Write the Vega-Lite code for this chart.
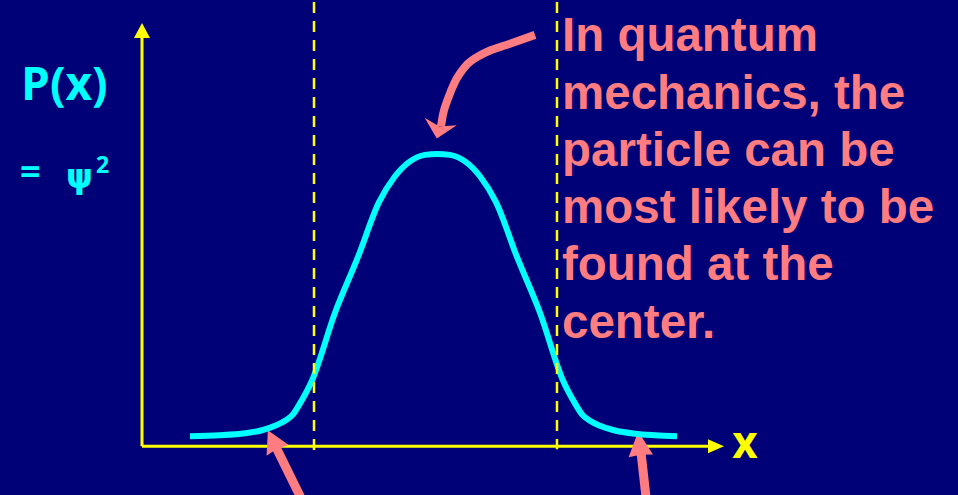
{
  "$schema": "https://vega.github.io/schema/vega-lite/v6.json",
  "width": 958,
  "height": 495,
  "autosize": {"type": "fit", "contains": "padding"},
  "padding": 0,
  "background": "#000077",
  "config": {"view": {"stroke": null}},
  "datasets": {
    "curve": [
      {"x": 47, "y": 10}, {"x": 77, "y": 11}, {"x": 102, "y": 13}, {"x": 119, "y": 16},
      {"x": 132, "y": 20.5}, {"x": 142, "y": 25.5}, {"x": 150, "y": 32}, {"x": 157, "y": 43},
      {"x": 169, "y": 66}, {"x": 192, "y": 134}, {"x": 215, "y": 190}, {"x": 236, "y": 245},
      {"x": 252, "y": 271}, {"x": 267, "y": 286}, {"x": 282, "y": 292.5}, {"x": 294, "y": 293.5},
      {"x": 307, "y": 292.5}, {"x": 322, "y": 286}, {"x": 337, "y": 271}, {"x": 353, "y": 245},
      {"x": 374, "y": 190}, {"x": 397, "y": 134}, {"x": 420, "y": 66}, {"x": 432, "y": 43},
      {"x": 439, "y": 32}, {"x": 447, "y": 25.5}, {"x": 457, "y": 20.5}, {"x": 471, "y": 16},
      {"x": 492, "y": 12.5}, {"x": 512, "y": 11}, {"x": 534, "y": 10}
    ],
    "dashes": [
      {"x": 171, "y": 446, "y2": -6},
      {"x": 414, "y": 446, "y2": -3}
    ],
    "axes": [
      {"x": -1, "y": 0, "x2": -1, "y2": 410},
      {"x": -1, "y": 0, "x2": 565, "y2": 0}
    ],
    "shafts": [
      {"x": 133, "y": -1, "x2": 157.5, "y2": -51},
      {"x": 498, "y": -6, "x2": 503, "y2": -51}
    ],
    "topShaft": [
      {"x": 392, "y": 413}, {"x": 367, "y": 404}, {"x": 340, "y": 394}, {"x": 322, "y": 381},
      {"x": 312, "y": 366}, {"x": 305, "y": 349}, {"x": 300, "y": 333}, {"x": 298, "y": 321}
    ],
    "textLines": [
      {"x": 419, "y": 396.5, "t": "In quantum"},
      {"x": 419, "y": 339, "t": "mechanics, the"},
      {"x": 419, "y": 281.5, "t": "particle can be"},
      {"x": 419, "y": 224, "t": "most likely to be"},
      {"x": 419, "y": 166.5, "t": "found at the"},
      {"x": 419, "y": 109, "t": "center."}
    ]
  },
  "encoding": {
    "x": {"field": "x", "type": "quantitative", "scale": {"domain": [-143, 815], "nice": false, "zero": false}, "axis": null},
    "y": {"field": "y", "type": "quantitative", "scale": {"domain": [-49, 446], "nice": false, "zero": false}, "axis": null}
  },
  "layer": [
    {
      "data": {"name": "axes"},
      "mark": {"type": "rule", "color": "#FFFF00", "strokeWidth": 3},
      "encoding": {"x2": {"field": "x2"}, "y2": {"field": "y2"}}
    },
    {
      "data": {"values": [{"x": -1, "y": 417.5}]},
      "mark": {"type": "point", "shape": "M0,-1L1.07,1L-1.07,1Z", "size": 225, "angle": 0, "filled": true, "opacity": 1, "color": "#FFFF00", "strokeWidth": 0}
    },
    {
      "data": {"values": [{"x": 573, "y": 0}]},
      "mark": {"type": "point", "shape": "M0,-1L0.88,1L-0.88,1Z", "size": 256, "angle": 90, "filled": true, "opacity": 1, "color": "#FFFF00", "strokeWidth": 0}
    },
    {
      "data": {"name": "shafts"},
      "mark": {"type": "rule", "color": "#FF7C80", "strokeWidth": 9, "strokeCap": "butt", "clip": true},
      "encoding": {"x2": {"field": "x2"}, "y2": {"field": "y2"}}
    },
    {
      "data": {"values": [{"x": 129.75, "y": 6}]},
      "mark": {"type": "point", "shape": "M0,-1L1.1,1L0,0.85L-1.1,1Z", "size": 500, "angle": -26, "filled": true, "opacity": 1, "color": "#FF7C80", "strokeWidth": 0}
    },
    {
      "data": {"values": [{"x": 496.5, "y": 2.5}]},
      "mark": {"type": "point", "shape": "M0,-1L1.0,1L0,0.9L-1.0,1Z", "size": 600, "angle": -6, "filled": true, "opacity": 1, "color": "#FF7C80", "strokeWidth": 0}
    },
    {
      "data": {"name": "topShaft"},
      "mark": {"type": "line", "interpolate": "monotone", "color": "#FF7C80", "strokeWidth": 8, "strokeCap": "butt"}
    },
    {
      "data": {"values": [{"x": 295.75, "y": 317.5}]},
      "mark": {"type": "point", "shape": "M0,-1L1.89,1L0,0.4L-1.89,1Z", "size": 306, "angle": 193, "filled": true, "opacity": 1, "color": "#FF7C80", "strokeWidth": 0}
    },
    {
      "data": {"name": "curve"},
      "mark": {"type": "line", "interpolate": "monotone", "color": "#00FFFF", "strokeWidth": 6}
    },
    {
      "data": {"name": "dashes"},
      "mark": {"type": "rule", "color": "#FFFF00", "strokeWidth": 2.5, "strokeDash": [11, 8]},
      "encoding": {"y2": {"field": "y2"}}
    },
    {
      "data": {"name": "textLines"},
      "mark": {"type": "text", "align": "left", "baseline": "alphabetic", "font": "Liberation Sans", "fontWeight": "bold", "fontSize": 47.5, "color": "#FF7C80"},
      "encoding": {"text": {"field": "t"}}
    },
    {
      "data": {"values": [{"x": -122, "y": 348, "t": "P(x)"}]},
      "mark": {"type": "text", "align": "left", "baseline": "alphabetic", "font": "Open Sans", "fontWeight": "bold", "fontSize": 46, "color": "#00FFFF"},
      "encoding": {"text": {"field": "t"}}
    },
    {
      "data": {"values": [{"x": -123, "y": 263.5, "t": "="}]},
      "mark": {"type": "text", "align": "left", "baseline": "alphabetic", "font": "Open Sans", "fontWeight": "bold", "fontSize": 36, "color": "#00FFFF"},
      "encoding": {"text": {"field": "t"}}
    },
    {
      "data": {"values": [{"x": -77, "y": 259, "t": "ψ"}]},
      "mark": {"type": "text", "align": "left", "baseline": "alphabetic", "font": "DejaVu Sans", "fontWeight": "bold", "fontSize": 34, "color": "#00FFFF"},
      "encoding": {"text": {"field": "t"}}
    },
    {
      "data": {"values": [{"x": -47, "y": 274, "t": "2"}]},
      "mark": {"type": "text", "align": "left", "baseline": "alphabetic", "font": "Open Sans", "fontWeight": "bold", "fontSize": 23, "color": "#00FFFF"},
      "encoding": {"text": {"field": "t"}}
    },
    {
      "data": {"values": [{"x": 602, "y": -12, "t": "x"}]},
      "mark": {"type": "text", "align": "center", "baseline": "alphabetic", "font": "Open Sans", "fontWeight": "bold", "fontSize": 44, "color": "#FFFF00"},
      "encoding": {"text": {"field": "t"}}
    }
  ]
}
